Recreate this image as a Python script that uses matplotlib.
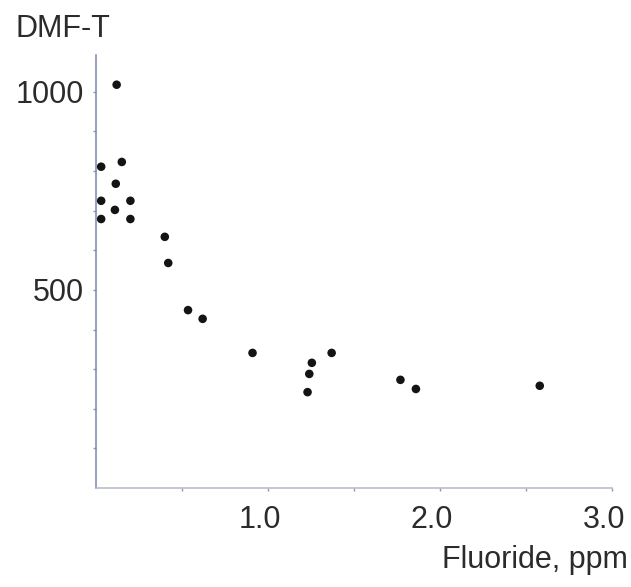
import matplotlib
matplotlib.use("Agg")
import matplotlib.pyplot as plt
import matplotlib.transforms as mtransforms

# fluoride in drinking water (ppm) vs DMF-T
fluoride = [0.03, 0.03, 0.03, 0.12, 0.15, 0.115, 0.11, 0.20, 0.20,
            0.40, 0.42, 0.535, 0.62, 0.91, 1.255, 1.24, 1.23, 1.37,
            1.77, 1.86, 2.58]
dmft = [811, 725, 679, 1018, 823, 768, 702, 725, 679,
        634, 568, 449, 427, 341, 316, 288, 242, 341,
        273, 250, 258]

x_major = [1.0, 2.0, 3.0]
x_minor = [0.5, 1.5, 2.5]
x_labels = ["1.0", "2.0", "3.0"]
y_major = [500, 1000]
y_minor = [100, 200, 300, 400, 600, 700, 800, 900]
y_labels = ["500", "1000"]

plt.rcParams['font.family'] = ['Liberation Sans', 'DejaVu Sans']
text_col = "#2b2b2b"
axis_col = "#8e96b4"

fig = plt.figure(figsize=(6.31, 5.87), dpi=100)
ax = fig.add_axes([96 / 631, 99 / 587, 516 / 631, 433 / 587])

ax.scatter(fluoride, dmft, s=38, color="#141414", edgecolors="none", zorder=3)

ax.set_xlim(0, 3.0)
ax.set_ylim(0, 1093)

for side in ["top", "right"]:
    ax.spines[side].set_visible(False)
ax.spines["left"].set_color("#7b86b0")
ax.spines["bottom"].set_color("#b4b8c6")
ax.spines["left"].set_linewidth(1.1)
ax.spines["bottom"].set_linewidth(1.1)

ax.set_xticks(x_major)
ax.set_xticklabels(x_labels)
ax.set_xticks(x_minor, minor=True)
ax.set_yticks(y_major)
ax.set_yticklabels(y_labels)
ax.set_yticks(y_minor, minor=True)

ax.tick_params(axis="both", which="both", length=2.5, width=1, color=axis_col,
               labelsize=22, labelcolor=text_col)
ax.tick_params(axis="x", which="both", pad=10)
ax.tick_params(axis="y", which="both", pad=6)

# x labels sit a little left of their ticks in the original
shift = mtransforms.ScaledTranslation(-8 / 100, 0, fig.dpi_scale_trans)
for t in ax.xaxis.get_major_ticks():
    t.label1.set_transform(t.label1.get_transform() + shift)

fig.text(15 / 631, (587 - 37) / 587, "DMF-T", fontsize=22, color=text_col,
         ha="left", va="baseline")
fig.text(628 / 631, (587 - 568) / 587, "Fluoride, ppm", fontsize=22,
         color=text_col, ha="right", va="baseline")

fig.savefig("out.png", dpi=100)
